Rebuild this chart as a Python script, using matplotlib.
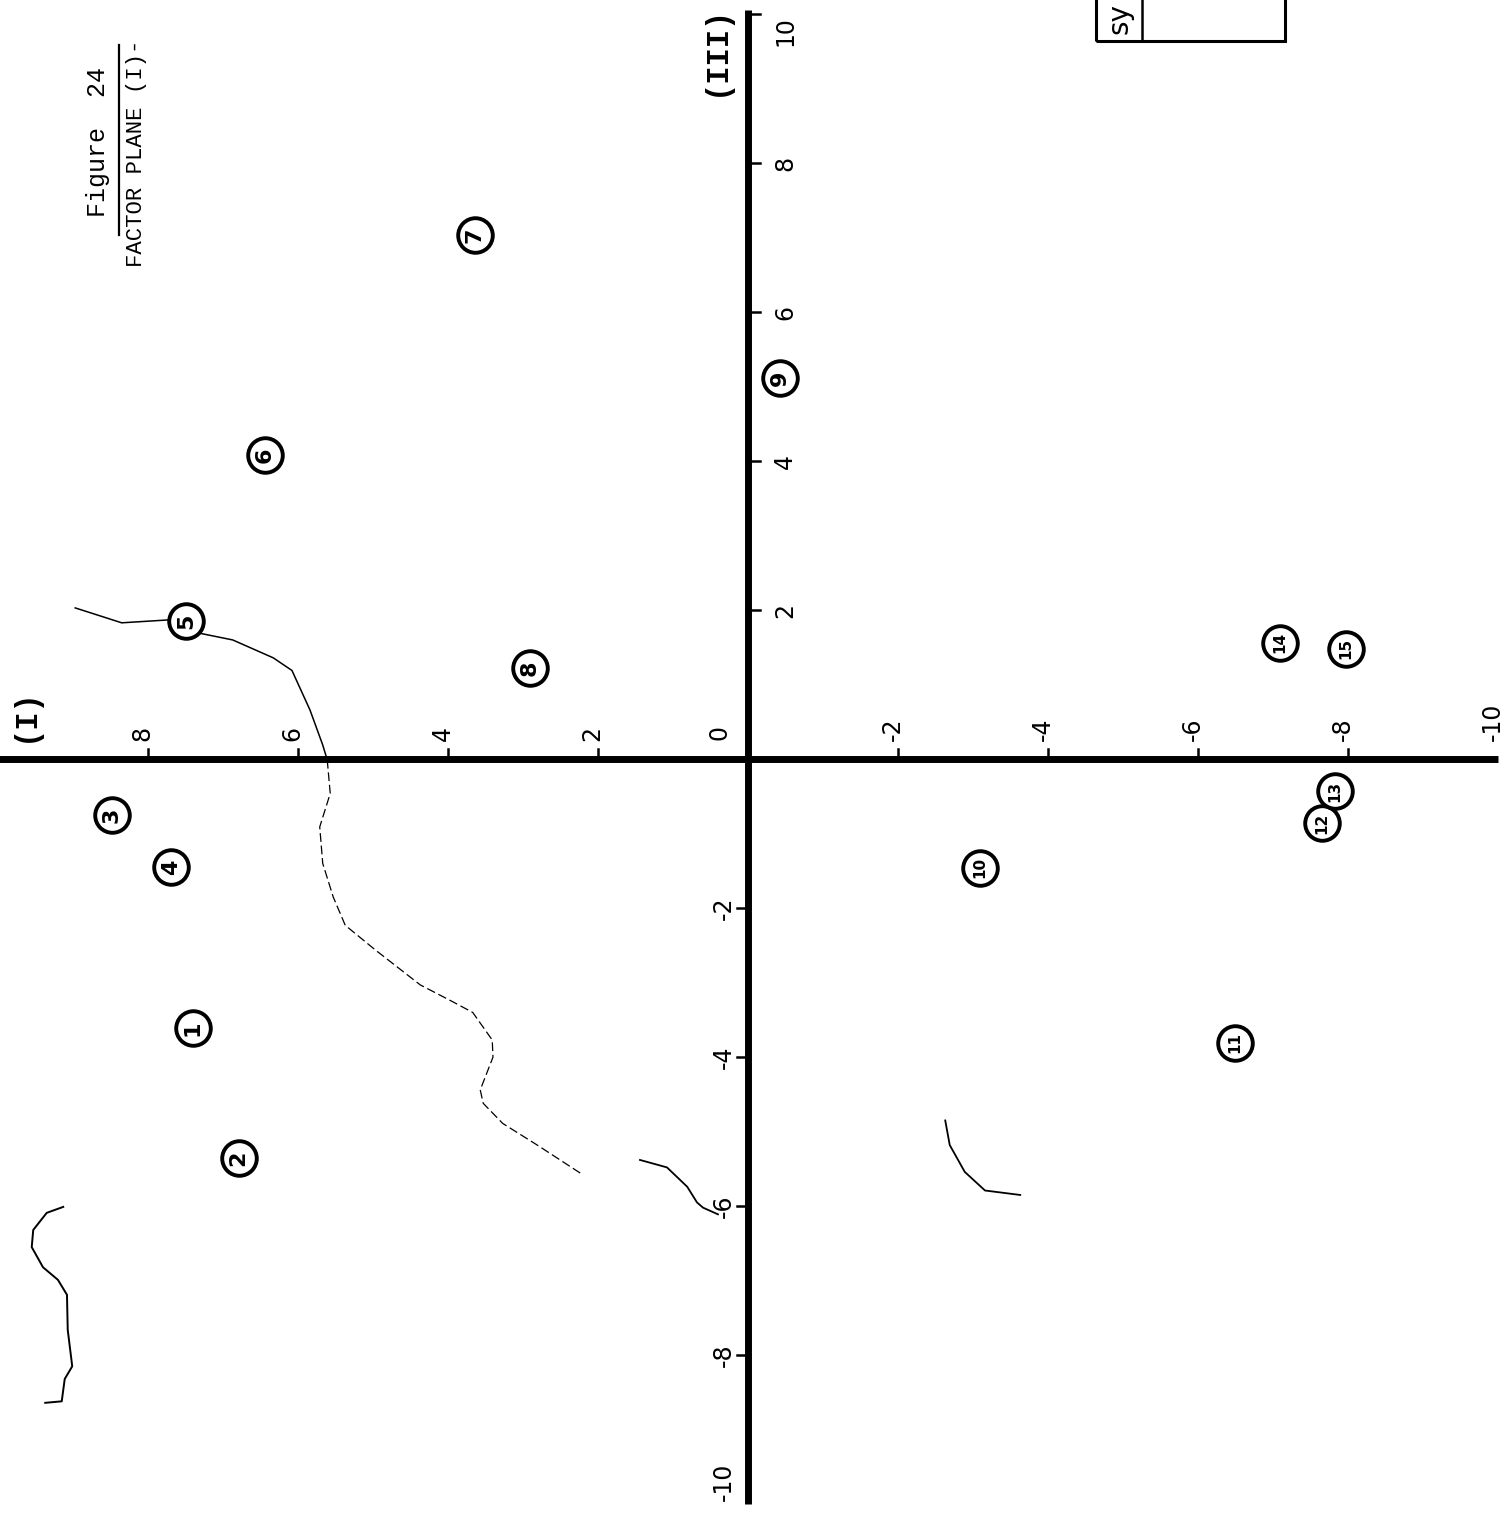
import numpy as np
import matplotlib.pyplot as plt
from matplotlib.patches import Rectangle

# factor scores of the 15 objects on factors I and III
labels = [str(i) for i in range(1, 16)]
factor_I = [7.40, 6.79, 8.48, 7.69, 7.49, 6.44, 3.64, 2.91, -0.43, -3.09,
            -6.49, -7.65, -7.83, -7.09, -7.97]
factor_III = [-3.61, -5.36, -0.75, -1.45, 1.85, 4.08, 7.03, 1.22, 5.11, -1.46,
              -3.81, -0.86, -0.43, 1.56, 1.48]

ticks = [-10, -8, -6, -4, -2, 2, 4, 6, 8, 10]

# hand drawn group boundary and stray pencil arcs (I, III)
boundary_I = [8.97, 8.35, 7.71, 7.31, 6.87, 6.33, 6.08, 5.84, 5.67, 5.61]
boundary_III = [2.03, 1.83, 1.87, 1.69, 1.60, 1.36, 1.19, 0.66, 0.19, -0.01]
boundary2_I = [5.61, 5.57, 5.71, 5.67, 5.53, 5.37, 4.97, 4.37, 3.93, 3.67,
               3.41, 3.40, 3.57, 3.53, 3.27, 2.81, 2.20]
boundary2_III = [-0.01, -0.46, -0.91, -1.40, -1.85, -2.23, -2.56, -3.03, -3.26,
                 -3.40, -3.77, -4.00, -4.44, -4.62, -4.89, -5.18, -5.58]
arc1_I = [9.13, 9.35, 9.53, 9.55, 9.40, 9.20, 9.08, 9.07, 9.01, 9.11, 9.15, 9.37]
arc1_III = [-6.01, -6.09, -6.32, -6.55, -6.82, -6.99, -7.19, -7.66, -8.15,
            -8.32, -8.62, -8.64]
arc2_I = [1.44, 1.08, 0.81, 0.68, 0.60, 0.40]
arc2_III = [-5.38, -5.48, -5.74, -5.95, -6.02, -6.11]
arc3_I = [-2.63, -2.69, -2.89, -3.16, -3.63]
arc3_III = [-4.85, -5.18, -5.54, -5.79, -5.85]

fig = plt.figure(figsize=(15.1, 15.25), dpi=100)
ax = fig.add_axes([0, 0, 1, 1])
ax.set_xlim(9.973, -10.16)   # factor I runs to the left on the turned page
ax.set_ylim(-10.28, 10.19)
ax.axis('off')

# the two factor axes
ax.plot([10.2, -10], [0, 0], color='black', lw=5, solid_capstyle='butt', zorder=3)
ax.plot([0, 0], [10.05, -10], color='black', lw=5, solid_capstyle='butt', zorder=3)

mono = 'Liberation Mono'
tfont = dict(fontsize=17, family='DejaVu Sans', rotation=90, color='black')

for t in ticks:
    if abs(t) < 10:
        ax.plot([t, t], [0, 0.14], color='black', lw=1.8, zorder=3)
    lab = str(t)
    ax.annotate(lab, (t, 0), xytext=(-4, 13), textcoords='offset points',
                ha='center', va='bottom', **tfont)
    if t > 0:
        ax.plot([0, -0.16], [t, t], color='black', lw=1.8, zorder=3)
        ax.annotate(lab, (0, t), xytext=(18, -12 if t == 10 else 0),
                    textcoords='offset points', ha='left', va='center', **tfont)
    else:
        if t > -10:
            ax.plot([0, 0.14], [t, t], color='black', lw=1.8, zorder=3)
        ax.annotate(lab, (0, max(t, -9.7)), xytext=(-9, 0), textcoords='offset points',
                    ha='right', va='center', **tfont)
ax.annotate('0', (0, 0), xytext=(-12, 14), textcoords='offset points',
            ha='right', va='bottom', **tfont)

# axis names
ax.annotate('(I)', (9.9, 0), xytext=(3, 12), textcoords='offset points',
            ha='left', va='bottom', fontsize=22, family=mono, fontweight='bold',
            rotation=90)
ax.annotate('(III)', (0, 9.52), xytext=(-12, 0), textcoords='offset points',
            ha='right', va='center', fontsize=22, family=mono, fontweight='bold',
            rotation=90)

# title, typed along the long edge
ax.text(8.66, 7.28, 'Figure  24', rotation=90, ha='center', va='bottom',
        fontsize=18, family=mono)
ax.plot([8.39, 8.39], [9.58, 7.03], color='black', lw=1.6)
ax.text(8.15, 6.60, 'FACTOR PLANE (I)-', rotation=90, ha='center', va='bottom',
        fontsize=16, family=mono)

# corner of the symbol key
ax.add_patch(Rectangle((-4.64, 9.64), -2.52, 1.0, fill=False, lw=2.2, zorder=3))
ax.plot([-5.25, -5.25], [9.64, 10.64], color='black', lw=1.8)
ax.text(-4.95, 9.74, 'sy', rotation=90, ha='center', va='bottom', fontsize=20,
        family='DejaVu Sans')

# pencil lines
ax.plot(boundary_I, boundary_III, color='black', lw=1.1, zorder=1)
ax.plot(boundary2_I, boundary2_III, color='black', lw=0.9, ls=(0, (7, 3)), zorder=1)
ax.plot(arc1_I, arc1_III, color='black', lw=1.4, zorder=1)
ax.plot(arc2_I, arc2_III, color='black', lw=1.3, zorder=1)
ax.plot(arc3_I, arc3_III, color='black', lw=1.3, zorder=1)

# circled object numbers
ax.scatter(factor_I, factor_III, s=620, facecolor='white', edgecolor='black',
           linewidth=2.8, zorder=4)
for lab, x, y in zip(labels, factor_I, factor_III):
    ax.text(x, y, lab, rotation=90, ha='center', va='center',
            fontsize=16 if len(lab) == 1 else 11, fontweight='bold',
            family='DejaVu Sans', zorder=5)

fig.savefig('out.png', dpi=100, facecolor='white')
